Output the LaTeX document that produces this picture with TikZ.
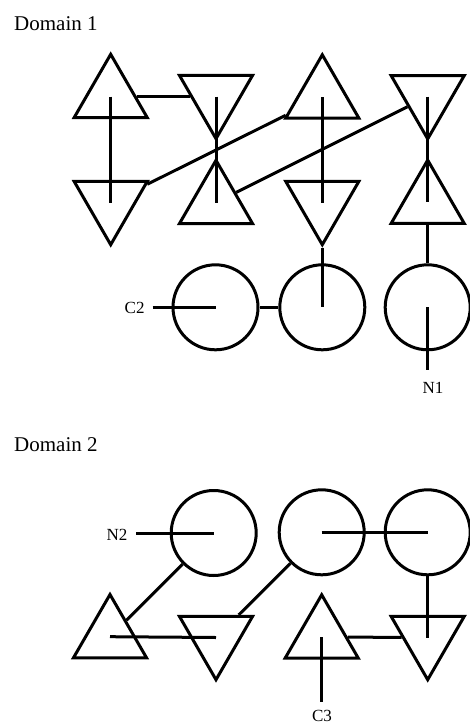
\documentclass[tikz,border=0pt]{standalone}
\usepackage{fontspec}
\setmainfont{Liberation Serif}
\usetikzlibrary{shapes.geometric}
\begin{document}
\begin{tikzpicture}[x=1pt,y=-1pt,line width=3pt,
  uptri/.style={draw,regular polygon,regular polygon sides=3,minimum size=84.4pt,inner sep=0pt},
  dntri/.style={uptri,shape border rotate=180},
  ball/.style={draw,circle,minimum size=85pt,inner sep=0pt},
  domlabel/.style={font=\fontsize{21}{24}\selectfont,inner sep=0pt},
  portlabel/.style={font=\fontsize{17}{20}\selectfont,inner sep=0pt}]
\useasboundingbox (0,0) rectangle (470,726);
% Domain 1
\node[domlabel,anchor=base west] (dom1) at (12.7,30) {Domain 1};
\node[uptri] (A) at (110.7,96.5) {};
\node[dntri] (B) at (216,96.5) {};
\node[uptri] (E) at (322.3,97) {};
\node[dntri] (G) at (427.7,96.7) {};
\node[dntri] (C) at (110.7,202.5) {};
\node[uptri] (D) at (216,202.5) {};
\node[dntri] (F) at (322.3,202.5) {};
\node[uptri] (H) at (427.7,202.3) {};
\node[ball] (c1) at (215.5,307.3) {};
\node[ball] (c2) at (322.3,307.3) {};
\node[ball] (c3) at (427.7,307.3) {};
\coordinate (c2end) at (152.7,307.3);
\coordinate (n1end) at (427.7,370);
\node[portlabel,anchor=base east] (lC2) at (146,313) {C2};
\node[portlabel,anchor=base] (lN1) at (433,393) {N1};
\draw (A) -- (B);
\draw (A.center) -- (C.center);
\draw (B.center) -- (D.center);
\draw (E.center) -- (F.center);
\draw (G.center) -- (H.center);
\draw (C) -- (E);
\draw (D) -- (G);
\draw (F) -- (c2.center);
\draw (H) -- (c3);
\draw (c1) -- (c2);
\draw (c2end) -- (c1.center);
\draw (c3.center) -- (n1end);
% Domain 2
\node[domlabel,anchor=base west] (dom2) at (12.7,451) {Domain 2};
\node[ball] (d1) at (213.7,533) {};
\node[ball] (d2) at (321.7,532.3) {};
\node[ball] (d3) at (427.7,532.3) {};
\node[uptri] (T1) at (110,636.7) {};
\node[dntri] (T2) at (216,637.5) {};
\node[uptri] (T3) at (321.7,637) {};
\node[dntri] (T4) at (427.7,637.5) {};
\coordinate (n2end) at (136,533);
\coordinate (c3end) at (321.7,701.7);
\node[portlabel,anchor=base east] (lN2) at (129,540) {N2};
\node[portlabel,anchor=base] (lC3) at (322,721) {C3};
\draw (n2end) -- (d1.center);
\draw (d1) -- (T1);
\draw (T1.center) -- (T2.center);
\draw (d2) -- (T2);
\draw (d2.center) -- (d3.center);
\draw (d3) -- (T4.center);
\draw (T3) -- (T4);
\draw (T3.center) -- (c3end);
\end{tikzpicture}
\end{document}
